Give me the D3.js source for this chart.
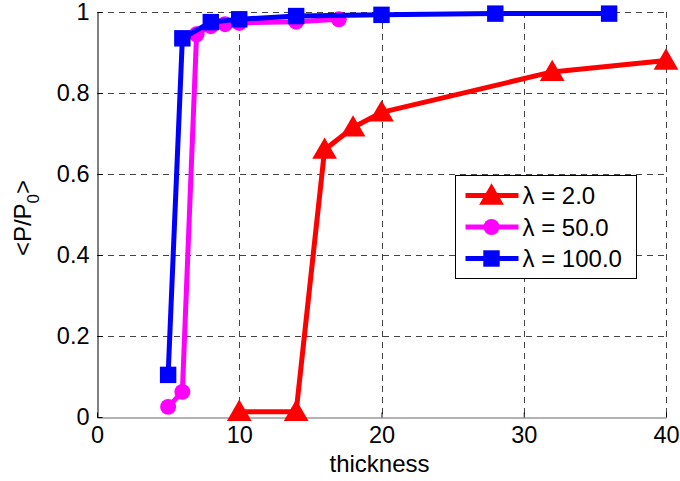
<!DOCTYPE html>
<html>
<head>
<meta charset="utf-8">
<script src="https://cdn.jsdelivr.net/npm/d3@7"></script>
<style>
  body { margin: 0; background: #fff; }
  svg { display: block; font-family: "Liberation Sans", Arial, sans-serif; }
</style>
</head>
<body>
<svg id="chart" width="680" height="481"></svg>
<script>
const thickRed = [10, 14, 16, 18, 20, 32, 40];
const pRed = [0.013, 0.013, 0.66, 0.715, 0.752, 0.852, 0.88];
const thickMag = [5, 6, 7, 8, 9, 10, 14, 17];
const pMag = [0.025, 0.062, 0.945, 0.965, 0.97, 0.973, 0.976, 0.982];
const thickBlue = [5, 6, 8, 10, 14, 20, 28, 36];
const pBlue = [0.104, 0.935, 0.975, 0.982, 0.99, 0.993, 0.996, 0.996];

const xTicks = [0, 10, 20, 30, 40];
const yTicks = [0, 0.2, 0.4, 0.6, 0.8, 1];
const legendLabels = ['\u03bb = 2.0', '\u03bb = 50.0', '\u03bb = 100.0'];

const series = [
    {label: legendLabels[0], xs: thickRed, ys: pRed, color: '#ff0000', symbol: d3.symbolTriangle, size: 265},
    {label: legendLabels[1], xs: thickMag, ys: pMag, color: '#ff00ff', symbol: d3.symbolCircle, size: 200},
    {label: legendLabels[2], xs: thickBlue, ys: pBlue, color: '#0000ff', symbol: d3.symbolSquare, size: 270}
];

const svg = d3.select('#chart');
const plotL = 97, plotR = 666, plotT = 12, plotB = 417;

const xScale = d3.scaleLinear().domain([0, 40]).range([plotL, plotR]);
const yScale = d3.scaleLinear().domain([0, 1]).range([plotB, plotT]);

// grid
const grid = svg.append('g')
    .attr('stroke', '#444')
    .attr('stroke-width', 1)
    .attr('stroke-dasharray', '6,5');

grid.selectAll('.vx')
    .data(xTicks.filter(d => d > 0))
    .join('line')
    .attr('x1', d => Math.round(xScale(d)) + 0.5)
    .attr('x2', d => Math.round(xScale(d)) + 0.5)
    .attr('y1', plotT)
    .attr('y2', plotB);

grid.selectAll('.hy')
    .data(yTicks.filter(d => d > 0))
    .join('line')
    .attr('y1', d => Math.round(yScale(d)) + 0.5)
    .attr('y2', d => Math.round(yScale(d)) + 0.5)
    .attr('x1', plotL)
    .attr('x2', plotR);

// axes, ticks inside like matlab
const xAxis = svg.append('g')
    .attr('transform', `translate(0,${plotB + 0.5})`)
    .call(d3.axisBottom(xScale).tickValues(xTicks).tickSizeInner(-5).tickSizeOuter(0).tickPadding(9));

const yAxis = svg.append('g')
    .attr('transform', `translate(${plotL + 0.5},0)`)
    .call(d3.axisLeft(yScale).tickValues(yTicks).tickSizeInner(-5).tickSizeOuter(0).tickPadding(8)
        .tickFormat(d => d3.format('~g')(d)));

[xAxis, yAxis].forEach(ax => {
    ax.selectAll('text').attr('font-size', 23.5).attr('fill', '#000')
        .attr('font-family', '"Liberation Sans", Arial, sans-serif');
    ax.selectAll('line').attr('stroke', '#000');
});
xAxis.select('.domain').attr('stroke', '#666');
yAxis.select('.domain').attr('stroke', '#000');

// labels
svg.append('text')
    .attr('x', (plotL + plotR) / 2 - 2)
    .attr('y', 472)
    .attr('text-anchor', 'middle')
    .attr('font-size', 24)
    .text('thickness');

const ylab = svg.append('text')
    .attr('transform', 'translate(31,218) rotate(-90)')
    .attr('text-anchor', 'middle')
    .attr('font-size', 24);
ylab.append('tspan').text('<P/P');
ylab.append('tspan').attr('font-size', 17).attr('dy', 8).text('0');
ylab.append('tspan').attr('dy', -8).text('>');

// lines and markers
series.forEach(s => {
    const pts = s.xs.map((x, i) => [x, s.ys[i]]);
    const line = d3.line()
        .x(d => xScale(d[0]))
        .y(d => yScale(d[1]));

    svg.append('path')
        .attr('d', line(pts))
        .attr('fill', 'none')
        .attr('stroke', s.color)
        .attr('stroke-width', 5)
        .attr('stroke-linejoin', 'round');

    svg.append('g').selectAll('path')
        .data(pts)
        .join('path')
        .attr('transform', d => `translate(${xScale(d[0])},${yScale(d[1]) + (s.symbol === d3.symbolTriangle ? 2 : 0)})`)
        .attr('d', d3.symbol().type(s.symbol).size(s.size))
        .attr('fill', s.color);
});

// legend
const lg = svg.append('g').attr('transform', 'translate(455.5,175.5)');
lg.append('rect')
    .attr('width', 181)
    .attr('height', 103)
    .attr('fill', '#fff')
    .attr('stroke', '#000')
    .attr('stroke-width', 1);

series.forEach((s, i) => {
    const cy = 20 + i * 31.5;
    lg.append('line')
        .attr('x1', 10).attr('x2', 63)
        .attr('y1', cy).attr('y2', cy)
        .attr('stroke', s.color)
        .attr('stroke-width', 5);
    lg.append('path')
        .attr('transform', `translate(36,${cy + (s.symbol === d3.symbolTriangle ? 2 : 0)})`)
        .attr('d', d3.symbol().type(s.symbol).size(s.size))
        .attr('fill', s.color);
    lg.append('text')
        .attr('x', 67)
        .attr('y', cy)
        .attr('dy', '0.36em')
        .attr('font-size', 24)
        .text(s.label);
});
</script>
</body>
</html>
